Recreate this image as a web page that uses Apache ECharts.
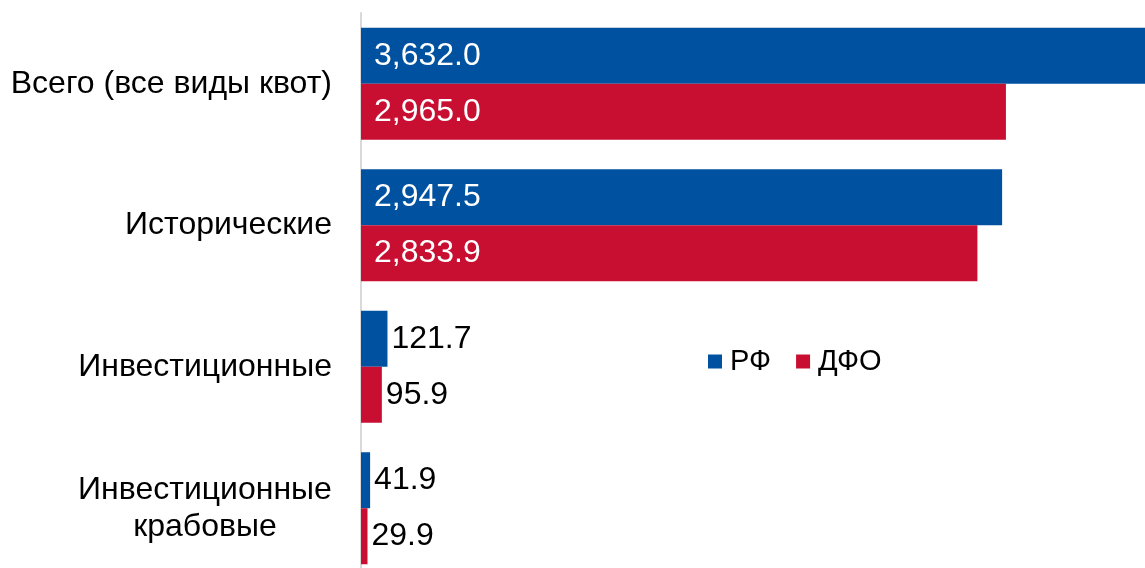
<!DOCTYPE html>
<html>
<head>
<meta charset="utf-8">
<script src="https://cdn.jsdelivr.net/npm/echarts@6/dist/echarts.min.js"></script>
<style>
  html, body { margin: 0; padding: 0; background: #fff; }
  #chart { width: 1145px; height: 568px; }
</style>
</head>
<body>
<div id="chart"></div>
<script>
  const categories = ['Всего (все виды квот)', 'Исторические', 'Инвестиционные', 'Инвестиционные\nкрабовые'];
  const rfValues = [3632.0, 2947.5, 121.7, 41.9];
  const dfoValues = [2965.0, 2833.9, 95.9, 29.9];
  const seriesNames = ['РФ', 'ДФО'];

  const colors = ['#0052A0', '#C80F32'];
  const font = 'Arial, "Liberation Sans", sans-serif';

  const fmt = v => v.toLocaleString('en-US', { minimumFractionDigits: 1, maximumFractionDigits: 1 });

  // big bars carry a white label inside, small ones a black label outside
  const toData = values => values.map(v => ({
    value: v,
    label: v > 1000
      ? { position: 'insideLeft', color: '#fff', distance: 13 }
      : { position: 'right', color: '#000', distance: 4 }
  }));

  const chart = echarts.init(document.getElementById('chart'));
  chart.setOption({
    animation: false,
    textStyle: { fontFamily: font },
    // plot runs a little past the right and bottom edges, like the original
    grid: { left: 361, top: 13, right: -6, bottom: -11, outerBoundsMode: 'none', containLabel: false },
    legend: {
      data: seriesNames,
      left: 708,
      top: 347,
      padding: 0,
      icon: 'rect',
      itemWidth: 14,
      itemHeight: 14,
      itemGap: 25,
      textStyle: { fontSize: 29, color: '#000', fontFamily: font, padding: [0, 0, 0, 3] }
    },
    xAxis: {
      type: 'value',
      min: 0,
      max: 3632,
      show: false
    },
    yAxis: {
      type: 'category',
      data: categories,
      inverse: true,
      axisLine: { show: true, lineStyle: { color: '#d9d9d9', width: 2 } },
      axisTick: { show: false },
      axisLabel: {
        fontSize: 32,
        color: '#000',
        fontFamily: font,
        margin: 29,
        lineHeight: 37,
        formatter: v => v.indexOf('\n') >= 0 ? '{c|' + v + '}' : v,
        rich: {
          c: { fontSize: 32, color: '#000', fontFamily: font, width: 254, align: 'center', lineHeight: 37 }
        }
      }
    },
    series: [
      {
        name: seriesNames[0],
        type: 'bar',
        data: toData(rfValues),
        barWidth: 56,
        barGap: '0%',
        itemStyle: { color: colors[0] },
        label: { show: true, fontSize: 32, fontFamily: font, formatter: p => fmt(p.value) }
      },
      {
        name: seriesNames[1],
        type: 'bar',
        data: toData(dfoValues),
        barWidth: 56,
        barGap: '0%',
        itemStyle: { color: colors[1] },
        label: { show: true, fontSize: 32, fontFamily: font, formatter: p => fmt(p.value) }
      }
    ]
  });
</script>
</body>
</html>
